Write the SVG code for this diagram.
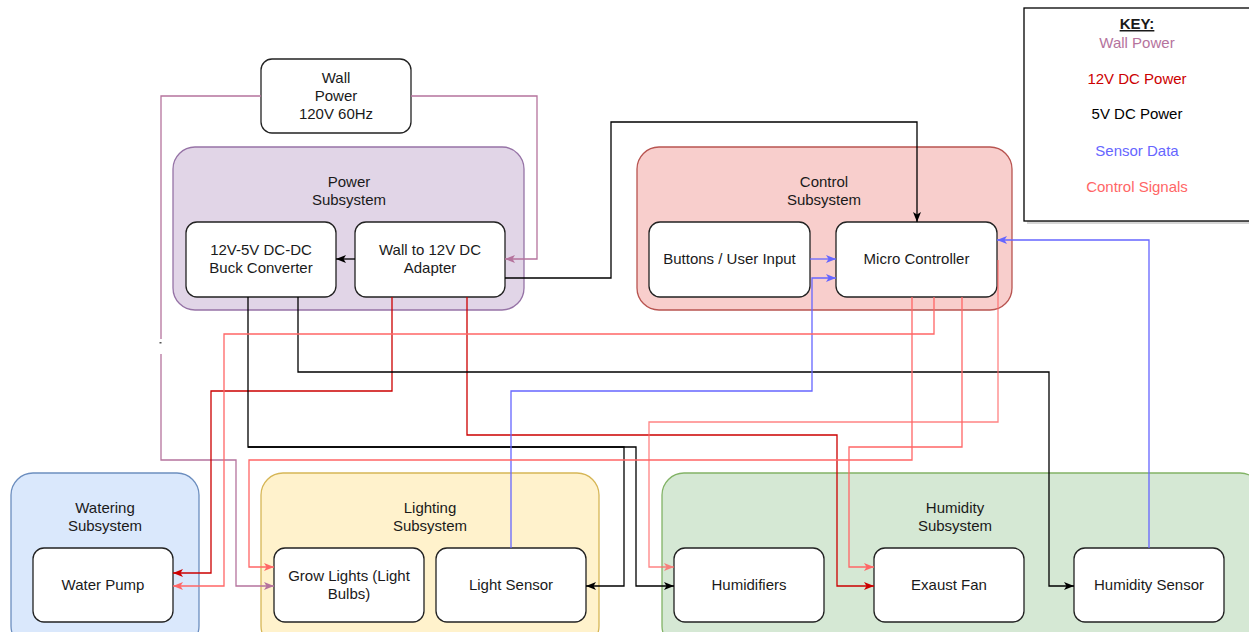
<svg xmlns="http://www.w3.org/2000/svg" width="1249" height="632" viewBox="0 0 1249 632">
<defs>
<style>
text{font-family:"Liberation Sans",Arial,sans-serif;font-size:15px;fill:#1a1a1a;text-anchor:middle}
.node{fill:#fff;stroke:#222;stroke-width:1.3}
.c{stroke-width:1.3}
.e{fill:none;stroke-width:1.3}
.wall{stroke:#B5739D}
.v12{stroke:#CC0000}
.v5{stroke:#000}
.sen{stroke:#6666FF}
.ctl{stroke:#FF6666}
</style>
<marker id="aWall" viewBox="0 0 10 10" refX="10" refY="5" markerWidth="10" markerHeight="10" markerUnits="userSpaceOnUse" orient="auto"><path d="M0,1 L10,5 L0,9 L2.5,5 z" fill="#B5739D"/></marker>
<marker id="a12" viewBox="0 0 10 10" refX="10" refY="5" markerWidth="10" markerHeight="10" markerUnits="userSpaceOnUse" orient="auto"><path d="M0,1 L10,5 L0,9 L2.5,5 z" fill="#CC0000"/></marker>
<marker id="a5" viewBox="0 0 10 10" refX="10" refY="5" markerWidth="10" markerHeight="10" markerUnits="userSpaceOnUse" orient="auto"><path d="M0,1 L10,5 L0,9 L2.5,5 z" fill="#000"/></marker>
<marker id="aSen" viewBox="0 0 10 10" refX="10" refY="5" markerWidth="10" markerHeight="10" markerUnits="userSpaceOnUse" orient="auto"><path d="M0,1 L10,5 L0,9 L2.5,5 z" fill="#6666FF"/></marker>
<marker id="aCtl" viewBox="0 0 10 10" refX="10" refY="5" markerWidth="10" markerHeight="10" markerUnits="userSpaceOnUse" orient="auto"><path d="M0,1 L10,5 L0,9 L2.5,5 z" fill="#FF6666"/></marker>
</defs>
<rect width="1249" height="632" fill="#fff"/>

<!-- Containers -->
<g id="power-subsystem">
<rect x="173" y="147" width="351" height="163" rx="22" fill="#e1d5e7" stroke="#9673a6" class="c"/>
<text x="349" y="187">Power</text><text x="349" y="205">Subsystem</text>
</g>
<g id="control-subsystem">
<rect x="637" y="147" width="375" height="163" rx="22" fill="#f8cecc" stroke="#b85450" class="c"/>
<text x="824" y="187">Control</text><text x="824" y="205">Subsystem</text>
</g>
<g id="watering-subsystem">
<rect x="11" y="473" width="188" height="175" rx="22" fill="#dae8fc" stroke="#6c8ebf" class="c"/>
<text x="105" y="513">Watering</text><text x="105" y="531">Subsystem</text>
</g>
<g id="lighting-subsystem">
<rect x="261" y="473" width="338" height="175" rx="22" fill="#fff2cc" stroke="#d6b656" class="c"/>
<text x="430" y="513">Lighting</text><text x="430" y="531">Subsystem</text>
</g>
<g id="humidity-subsystem">
<rect x="662" y="473" width="600" height="175" rx="22" fill="#d5e8d4" stroke="#82b366" class="c"/>
<text x="955" y="513">Humidity</text><text x="955" y="531">Subsystem</text>
</g>

<!-- Nodes -->
<g id="wall-power">
<rect class="node" x="261" y="59" width="150" height="74" rx="11"/>
<text x="336" y="83">Wall</text><text x="336" y="101">Power</text><text x="336" y="119">120V 60Hz</text>
</g>
<g id="buck-converter">
<rect class="node" x="186" y="222" width="150" height="75" rx="11"/>
<text x="261" y="255">12V-5V DC-DC</text><text x="261" y="273">Buck Converter</text>
</g>
<g id="adapter">
<rect class="node" x="355" y="222" width="150" height="75" rx="11"/>
<text x="430" y="255">Wall to 12V DC</text><text x="430" y="273">Adapter</text>
</g>
<g id="buttons">
<rect class="node" x="649" y="222" width="161" height="75" rx="11"/>
<text x="729.5" y="264">Buttons / User Input</text>
</g>
<g id="micro-controller">
<rect class="node" x="836" y="222" width="161" height="75" rx="11"/>
<text x="916.5" y="264">Micro Controller</text>
</g>
<g id="water-pump">
<rect class="node" x="33" y="548" width="140" height="74" rx="11"/>
<text x="103" y="590">Water Pump</text>
</g>
<g id="grow-lights">
<rect class="node" x="274" y="548" width="150" height="74" rx="11"/>
<text x="349" y="581">Grow Lights (Light</text><text x="349" y="599">Bulbs)</text>
</g>
<g id="light-sensor">
<rect class="node" x="436" y="548" width="150" height="74" rx="11"/>
<text x="511" y="590">Light Sensor</text>
</g>
<g id="humidifiers">
<rect class="node" x="674" y="548" width="150" height="74" rx="11"/>
<text x="749" y="590">Humidifiers</text>
</g>
<g id="exaust-fan">
<rect class="node" x="874" y="548" width="150" height="74" rx="11"/>
<text x="949" y="590">Exaust Fan</text>
</g>
<g id="humidity-sensor">
<rect class="node" x="1074" y="548" width="150" height="74" rx="11"/>
<text x="1149" y="590">Humidity Sensor</text>
</g>

<!-- Key -->
<g id="key">
<rect x="1027" y="11" width="226" height="213" fill="#bbb" opacity="0.6"/>
<rect x="1024" y="8" width="226" height="213" fill="#fff" stroke="#000" stroke-width="1.3"/>
<text x="1137" y="29" font-weight="bold" text-decoration="underline">KEY:</text>
<text x="1137" y="48" style="fill:#B5739D">Wall Power</text>
<text x="1137" y="84" style="fill:#CC0000">12V DC Power</text>
<text x="1137" y="119" style="fill:#000">5V DC Power</text>
<text x="1137" y="156" style="fill:#6666FF">Sensor Data</text>
<text x="1137" y="192" style="fill:#FF6666">Control Signals</text>
</g>

<!-- Connectors -->
<g id="connectors">
<!-- Wall power -->
<path class="e wall" d="M411,96 H537 V259 H505" marker-end="url(#aWall)"/>
<path class="e wall" d="M261,96 H161 V339"/>
<path class="e wall" d="M161,354 V460 H236 V586 H274" marker-end="url(#aWall)"/>
<rect x="159.5" y="342" width="2" height="1.5" fill="#555"/>
<!-- 12V DC -->
<path class="e v12" d="M392,297 V391 H211 V573 H173" marker-end="url(#a12)"/>
<path class="e v12" d="M467,297 V435 H837 V586 H874" marker-end="url(#a12)"/>
<!-- 5V / black -->
<path class="e v5" d="M355,259 H336" marker-end="url(#a5)"/>
<path class="e v5" d="M505,278 H611 V122 H917 V222" marker-end="url(#a5)"/>
<path class="e v5" d="M298,297 V372 H1049 V586 H1074" marker-end="url(#a5)"/>
<path class="e v5" d="M248,297 V447 H636 V586 H674" marker-end="url(#a5)"/>
<path class="e v5" d="M248,447 H624 V586 H586" marker-end="url(#a5)"/>
<!-- Sensor data -->
<path class="e sen" d="M810,259 H836" marker-end="url(#aSen)"/>
<path class="e sen" d="M511,548 V391 H812 V278 H836" marker-end="url(#aSen)"/>
<path class="e sen" d="M1149,548 V240 H997" marker-end="url(#aSen)"/>
<!-- Control signals -->
<path class="e ctl" d="M934,297 V334 H224 V586 H173" marker-end="url(#aCtl)"/>
<path class="e ctl" d="M912,297 V460 H249 V567 H274" marker-end="url(#aCtl)"/>
<path class="e ctl" d="M962,297 V447 H849 V567 H874" marker-end="url(#aCtl)"/>
<path class="e ctl" d="M998,260 V422 H649 V567 H674" marker-end="url(#aCtl)" opacity="0.8"/>
</g>
</svg>
